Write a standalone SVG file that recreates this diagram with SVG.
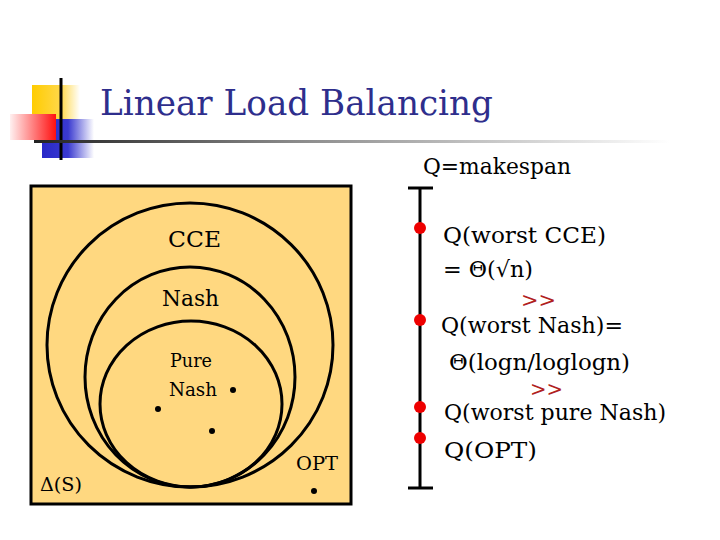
<svg xmlns="http://www.w3.org/2000/svg" width="720" height="540" viewBox="0 0 720 540">
<defs>
<linearGradient id="gy" x1="0" x2="1" y1="0" y2="0"><stop offset="0" stop-color="#FFCC00"/><stop offset="0.6" stop-color="#FFD84A"/><stop offset="1" stop-color="#FFFFFF"/></linearGradient>
<linearGradient id="gb" x1="0" x2="1" y1="0" y2="0"><stop offset="0" stop-color="#2828C8"/><stop offset="0.5" stop-color="#3A3AD0"/><stop offset="1" stop-color="#FFFFFF"/></linearGradient>
<linearGradient id="gr" x1="1" x2="0" y1="0" y2="0"><stop offset="0" stop-color="#FF1010"/><stop offset="0.5" stop-color="#FF8080"/><stop offset="1" stop-color="#FFF0F0"/></linearGradient>
<linearGradient id="gl" x1="0" x2="1" y1="0" y2="0"><stop offset="0" stop-color="#222222"/><stop offset="0.4" stop-color="#888888"/><stop offset="1" stop-color="#FFFFFF"/></linearGradient>
</defs>
<style>
text{font-family:"DejaVu Serif","Liberation Serif",serif;fill:#000}
.c{fill:none;stroke:#000;stroke-width:3}
.d{fill:#000}
.r{fill:#EE0000}
</style>
<g id="decor">
<rect x="32" y="85" width="48" height="34" fill="url(#gy)"/>
<rect x="42" y="119" width="52" height="39" fill="url(#gb)"/>
<rect x="10" y="114" width="46" height="26" fill="url(#gr)"/>
<line x1="61" y1="78" x2="61" y2="160" stroke="#000" stroke-width="3"/>
<rect x="34" y="140" width="636" height="3" fill="url(#gl)"/>
</g>
<text x="100" y="115" font-size="36" textLength="393" lengthAdjust="spacingAndGlyphs" style="fill:#2E2E8C">Linear Load Balancing</text>
<text x="423" y="174" font-size="22" textLength="148" lengthAdjust="spacingAndGlyphs">Q=makespan</text>
<g id="box">
<rect x="31" y="186" width="320" height="318" fill="#FFD880" stroke="#000" stroke-width="3"/>
</g>
<g id="cce"><ellipse class="c" cx="190" cy="345" rx="143" ry="142"/><text x="168" y="247" font-size="22" textLength="53" lengthAdjust="spacingAndGlyphs">CCE</text></g>
<g id="nash"><ellipse class="c" cx="190" cy="377" rx="105" ry="110"/><text x="162" y="306" font-size="22" textLength="57" lengthAdjust="spacingAndGlyphs">Nash</text></g>
<g id="pure"><ellipse class="c" cx="191" cy="404" rx="91" ry="83"/><text x="170" y="367" font-size="18" textLength="42" lengthAdjust="spacingAndGlyphs">Pure</text><text x="169" y="396" font-size="18" textLength="48" lengthAdjust="spacingAndGlyphs">Nash</text></g>
<g id="points">
<circle class="d" cx="233" cy="390" r="3"/>
<circle class="d" cx="158" cy="409" r="3"/>
<circle class="d" cx="212" cy="431" r="3"/>
<circle class="d" cx="314" cy="491" r="3"/>
</g>
<text x="40" y="491" font-size="18" textLength="42" lengthAdjust="spacingAndGlyphs">Δ(S)</text>
<text x="296" y="470" font-size="19" textLength="42" lengthAdjust="spacingAndGlyphs">OPT</text>
<g id="scale">
<line x1="420" y1="188" x2="420" y2="488" stroke="#000" stroke-width="3"/>
<line x1="408" y1="188" x2="433" y2="188" stroke="#000" stroke-width="3"/>
<line x1="408" y1="488" x2="433" y2="488" stroke="#000" stroke-width="3"/>
<circle class="r" cx="420" cy="228" r="6"/>
<circle class="r" cx="420" cy="320" r="6"/>
<circle class="r" cx="420" cy="407" r="6"/>
<circle class="r" cx="420" cy="438" r="6"/>
</g>
<g id="labels">
<text x="443" y="243" font-size="22" textLength="163" lengthAdjust="spacingAndGlyphs">Q(worst CCE)</text>
<text x="443" y="277" font-size="22" textLength="90" lengthAdjust="spacingAndGlyphs">= Θ(√n)</text>
<text x="521" y="307" font-size="20" textLength="35" lengthAdjust="spacingAndGlyphs" style="fill:#B02020">&gt;&gt;</text>
<text x="441" y="333" font-size="22" textLength="182" lengthAdjust="spacingAndGlyphs">Q(worst Nash)=</text>
<text x="449" y="370" font-size="22" textLength="181" lengthAdjust="spacingAndGlyphs">Θ(logn/loglogn)</text>
<text x="530" y="396" font-size="20" textLength="33" lengthAdjust="spacingAndGlyphs" style="fill:#B02020">&gt;&gt;</text>
<text x="444" y="420" font-size="22" textLength="222" lengthAdjust="spacingAndGlyphs">Q(worst pure Nash)</text>
<text x="444" y="458" font-size="22" textLength="93" lengthAdjust="spacingAndGlyphs">Q(OPT)</text>
</g>
</svg>
